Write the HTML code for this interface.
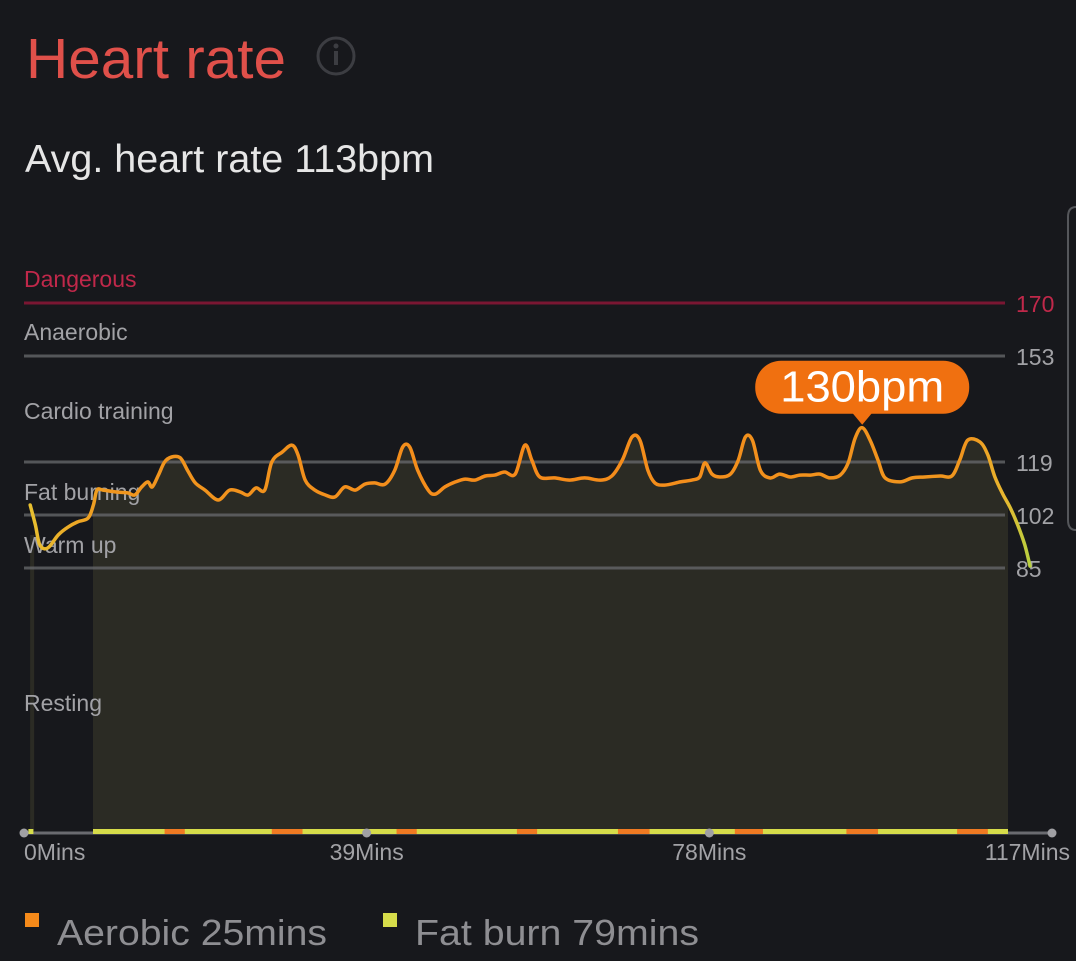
<!DOCTYPE html>
<html><head><meta charset="utf-8"><style>
html,body{margin:0;padding:0;background:#17181c;}
svg{display:block;font-family:"Liberation Sans",sans-serif;}
</style></head><body>
<svg id="chart" width="1076" height="961" viewBox="0 0 1076 961" xmlns="http://www.w3.org/2000/svg">
<defs>
<linearGradient id="lineGrad" x1="30" x2="1030" y1="0" y2="0" gradientUnits="userSpaceOnUse">
<stop offset="0" stop-color="#e8c030"/><stop offset="0.08" stop-color="#f0961e"/><stop offset="0.5" stop-color="#f58a1a"/><stop offset="0.94" stop-color="#f0961e"/><stop offset="0.975" stop-color="#e8b830"/><stop offset="1" stop-color="#b8d040"/>
</linearGradient>
<clipPath id="fillClip"><rect x="93" y="0" width="915" height="961"/></clipPath>
</defs>
<rect width="1076" height="961" fill="#17181c"/>
<text x="26" y="78" font-size="57" fill="#e0504a" textLength="260" lengthAdjust="spacingAndGlyphs">Heart rate</text>
<g>
<circle cx="336" cy="56" r="18" fill="none" stroke="#3c3d42" stroke-width="3"/>
<circle cx="336" cy="46" r="2.5" fill="#3c3d42"/><rect x="334" y="51" width="4" height="14" fill="#3c3d42"/>
</g>
<text x="25" y="172" font-size="39" fill="#e6e6e6" textLength="409" lengthAdjust="spacingAndGlyphs">Avg. heart rate 113bpm</text>
<path d="M1076 207 Q1068 207 1068 217 L1068 520 Q1068 530 1076 530" fill="none" stroke="#55575b" stroke-width="2"/>
<g id="plot"></g>
<g id="zones"></g>
<g id="topLayer"></g>
<g>
<rect x="25" y="913" width="14" height="14" fill="#f58a1a"/>
<text x="57" y="945" font-size="36" fill="#8e8e92" textLength="270" lengthAdjust="spacingAndGlyphs">Aerobic 25mins</text>
<rect x="383" y="913" width="14" height="14" fill="#d6dc4a"/>
<text x="415" y="945" font-size="36" fill="#8e8e92" textLength="284" lengthAdjust="spacingAndGlyphs">Fat burn 79mins</text>
</g>
</svg>
<script>
const zoneNames=["Dangerous","Anaerobic","Cardio training","Fat burning","Warm up","Resting"];
const zoneLabelY=[279,332,411,492,545,703];
const zoneTicks=[170,153,119,102,85];
const xTicks=[0,39,78,117];
const minutes=[0.7,1.3,1.8,2.7,3.9,5.0,6.1,7.3,7.9,8.3,9.0,10.4,11.8,12.6,13.4,14.1,14.6,15.3,16.0,16.8,17.8,18.6,19.5,20.6,22.1,23.4,24.6,25.5,26.4,27.4,28.2,29.4,30.5,31.2,32.0,33.1,34.3,35.4,36.5,37.7,38.8,39.9,41.1,42.2,43.1,43.9,44.8,46.0,46.8,47.9,49.1,50.2,51.3,52.5,53.6,54.7,55.9,57.0,57.8,58.7,60.4,62.1,63.8,65.6,66.9,68.1,69.2,70.1,71.0,71.8,72.9,74.7,76.0,76.9,77.5,78.3,79.2,80.4,81.3,82.1,82.9,83.8,84.9,86.0,87.2,88.3,89.5,90.6,91.7,92.9,93.8,94.6,95.4,96.3,97.2,98.0,99.7,101.1,102.5,104.3,105.6,106.5,107.4,108.8,109.7,110.5,111.4,112.2,113.1,113.9,114.5];
const bpm=[105.2,98.8,92.4,91.4,95.6,98.1,99.8,101,105.2,110,110,109.4,109.1,108.4,111,112.6,111,114.8,119,120.6,120.3,116.4,112.3,110,106.8,110,109.4,108.4,110.7,110,119,122.2,124.4,121.2,113.2,110,108.4,107.8,111,110,111.9,112.3,111.9,116.4,123.8,123.8,116.4,110,108.7,111,112.6,113.5,113.2,114.5,114.8,115.8,115.1,124.4,119.6,114.2,113.9,113.2,113.9,113.2,114.5,119.6,127,126,116.4,112.3,111.6,112.6,113.2,114.2,118.7,115.1,114.2,115.1,119.6,127,126,116.4,113.9,115.1,114.2,114.8,114.8,115.1,113.9,114.8,118.7,126.7,130,126,119.6,113.9,112.6,113.9,114.2,114.5,114.5,119.6,126,125.4,121.2,114.2,108.7,104.6,98.8,92.4,85.6];
const zoneSegStart=[16.0,28.2,42.4,56.1,67.6,80.9,93.6,106.2];
const zoneSegEnd=[18.3,31.7,44.7,58.4,71.2,84.1,97.2,109.7];
const peakIndex=bpm.indexOf(Math.max(...bpm));

const NS="http://www.w3.org/2000/svg";
function xS(m){return 24+m*(1028/117);}
function yS(v){return 568+(85-v)*3.118;}
function mk(tag,attrs,parent){const e=document.createElementNS(NS,tag);for(const k in attrs)e.setAttribute(k,attrs[k]);parent.appendChild(e);return e;}
const zonesG=document.getElementById('zones'), plotG=document.getElementById('plot'), topG=document.getElementById('topLayer');

const pts=minutes.map((m,i)=>[xS(m),yS(bpm[i])]);
let d='M'+pts[0][0].toFixed(1)+' '+pts[0][1].toFixed(1);
for(let i=0;i<pts.length-1;i++){
 const p0=pts[Math.max(0,i-1)],p1=pts[i],p2=pts[i+1],p3=pts[Math.min(pts.length-1,i+2)];
 const c1=[p1[0]+(p2[0]-p0[0])/6,p1[1]+(p2[1]-p0[1])/6],c2=[p2[0]-(p3[0]-p1[0])/6,p2[1]-(p3[1]-p1[1])/6];
 d+='C'+c1[0].toFixed(1)+' '+c1[1].toFixed(1)+' '+c2[0].toFixed(1)+' '+c2[1].toFixed(1)+' '+p2[0].toFixed(1)+' '+p2[1].toFixed(1);
}
const base=831;
const area=mk('path',{d:d+'L'+pts[pts.length-1][0]+' '+base+'L'+pts[0][0]+' '+base+'Z',fill:'#2b2b24','clip-path':'url(#fillClip)'},plotG);


const strip=mk('rect',{x:xS(minutes[0]),y:yS(bpm[4]),width:4,height:base-yS(bpm[4]),fill:'#2b2b24'},plotG);



zoneTicks.forEach((v,i)=>{
 const l=mk('line',{x1:24,x2:1005,y1:yS(v),y2:yS(v),stroke:i===0?'#7a1632':'#6a6b6e','stroke-opacity':i===0?1:0.75,'stroke-width':3},zonesG);
 
 
 const t=mk('text',{x:1016,y:yS(v)+9,'font-size':23,fill:i===0?'#c0284a':'#a2a2a6'},zonesG);
 
 
 t.textContent=v;
});
zoneNames.forEach((n,i)=>{
 const t=mk('text',{x:24,y:zoneLabelY[i]+8,'font-size':23,fill:i===0?'#c0284a':'#a2a2a6'},zonesG);
 
 
 t.textContent=n;
});

const axis=mk('line',{x1:xS(0),x2:xS(117),y1:833,y2:833,stroke:'#6a6b70','stroke-width':3},topG);


const band=mk('rect',{x:93,y:829,width:915,height:5,fill:'#d6dc4a'},topG);


const band0=mk('rect',{x:xS(0.5),y:829,width:5,height:5,fill:'#d6dc4a'},topG);


zoneSegStart.forEach((s,i)=>{
 const r=mk('rect',{x:xS(s),y:829,width:xS(zoneSegEnd[i])-xS(s),height:5,fill:'#f07a22'},topG);
 
 
});
xTicks.forEach((m,i)=>{
 const c=mk('circle',{cx:xS(m),cy:833,r:4.5,fill:'#a0a0a4'},topG);
 
 
 const anchor=i===0?'start':(i===xTicks.length-1?'end':'middle');
 const t=mk('text',{x:i===xTicks.length-1?1070:xS(m),y:860,'font-size':23,fill:'#a2a2a6','text-anchor':anchor},topG);
 
 
 t.textContent=m+'Mins';
});

const line=mk('path',{d:d,fill:'none',stroke:'url(#lineGrad)','stroke-width':3.5,'stroke-linejoin':'round','stroke-linecap':'round'},topG);



const px=xS(minutes[peakIndex]), py=yS(bpm[peakIndex]);
const tip=mk('g',{},topG);


mk('rect',{x:px-107,y:py-67,width:214,height:53,rx:26,fill:'#f07010'},tip);
mk('path',{d:`M${px-10} ${py-15} L${px} ${py-3} L${px+10} ${py-15}Z`,fill:'#f07010'},tip);
const tt=mk('text',{x:px,y:py-26,'font-size':44,fill:'#ffffff','text-anchor':'middle',textLength:164,lengthAdjust:'spacingAndGlyphs'},tip);


tt.textContent=Math.round(bpm[peakIndex])+'bpm';
</script>
</body></html>
